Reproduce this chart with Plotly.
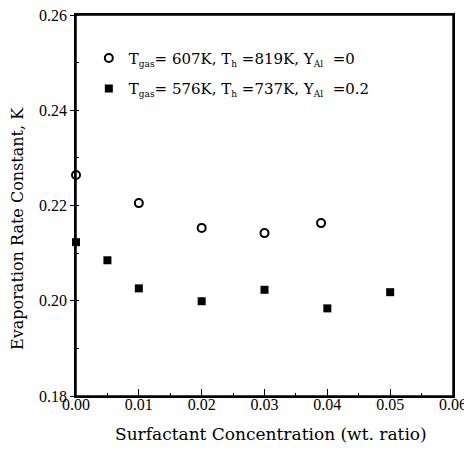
import plotly.graph_objects as go

# data
conc_open = [0.0, 0.01, 0.02, 0.03, 0.039]
k_open = [0.2264, 0.2205, 0.2153, 0.2142, 0.2163]

conc_filled = [0.0, 0.005, 0.01, 0.02, 0.03, 0.04, 0.05]
k_filled = [0.2123, 0.2085, 0.2026, 0.1999, 0.2023, 0.1984, 0.2018]

x_title = "Surfactant Concentration (wt. ratio)"
y_title = "Evaporation Rate Constant, K"

sub = lambda s: "<sub><span style='font-size:9px'>" + s + "</span></sub>"
name_open = "T" + sub("gas") + "= 607K, T" + sub("h") + " =819K, Y" + sub("Al") + "  =0"
name_filled = "T" + sub("gas") + "= 576K, T" + sub("h") + " =737K, Y" + sub("Al") + "  =0.2"

serif = "Liberation Serif, Times New Roman, serif"
wide_serif = "DejaVu Serif, serif"

fig = go.Figure()
fig.add_trace(go.Scatter(x=conc_open, y=k_open, mode="markers", name=name_open,
                         legendgroup="a", cliponaxis=False,
                         marker=dict(symbol="circle-open", size=8, color="black",
                                     line=dict(width=2, color="black"))))
fig.add_trace(go.Scatter(x=conc_filled, y=k_filled, mode="markers", name=name_filled,
                         legendgroup="b", cliponaxis=False,
                         marker=dict(symbol="square", size=8, color="black")))

# page body has an 8px margin, so the figure is a bit smaller than the window
fig.update_layout(
    width=456, height=436,
    margin=dict(l=68, r=11, t=7, b=48, autoexpand=False),
    paper_bgcolor="white", plot_bgcolor="white",
    font=dict(family=serif, size=16, color="black"),
    showlegend=True,
    legend=dict(x=0.034, y=0.93, xanchor="left", yanchor="top",
                bgcolor="rgba(0,0,0,0)", font=dict(family=wide_serif, size=15),
                tracegroupgap=8, itemwidth=30),
    annotations=[
        dict(text=y_title, textangle=-90, xref="paper", yref="paper", x=-0.155, y=0.44,
             xanchor="center", yanchor="middle", showarrow=False,
             font=dict(family=wide_serif, size=16)),
        dict(text=x_title, xref="paper", yref="paper", x=0.517, y=-0.1,
             xanchor="center", yanchor="middle", showarrow=False,
             font=dict(family=wide_serif, size=17)),
    ],
    # frame around the plot area (top and right edges)
    shapes=[dict(type="rect", xref="paper", yref="paper", x0=0, x1=1, y0=0, y1=1,
                 line=dict(color="black", width=1.5), layer="above")],
)
fig.update_xaxes(
    range=[0, 0.06], dtick=0.01, tickformat=".2f", automargin=False,
    ticklabeloverflow="allow", ticklabelstandoff=-7,
    showgrid=False, zeroline=False,
    showline=True, linecolor="black", linewidth=1.5, mirror=True,
    ticks="inside", ticklen=7, tickcolor="black",
    minor=dict(dtick=0.005, ticks="inside", ticklen=3, tickcolor="black"),
)
fig.update_yaxes(
    range=[0.18, 0.26], dtick=0.02, tickformat=".2f", automargin=False,
    ticklabeloverflow="allow",
    showgrid=False, zeroline=False,
    showline=True, linecolor="black", linewidth=1.5, mirror=True,
    ticks="outside", ticklen=4, tickcolor="black",
    minor=dict(dtick=0.01, ticks="inside", ticklen=3, tickcolor="black"),
)

fig.write_html("out.html")
